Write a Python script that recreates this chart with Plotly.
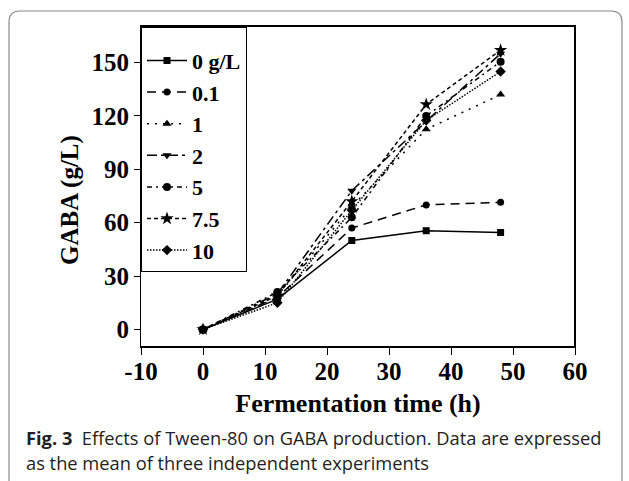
import plotly.graph_objects as go

# ---- data ----
time_h = [0, 12, 24, 36, 48]
series_names = ["0 g/L", "0.1", "1", "2", "5", "7.5", "10"]
gaba_0 = [0, 17, 50, 55.5, 54.5]
gaba_0_1 = [0, 18, 57, 70, 71.5]
gaba_1 = [0, 19, 69, 112.5, 132]
gaba_2 = [0, 20, 78, 117, 155]
gaba_5 = [0, 21, 63, 120, 150.5]
gaba_7_5 = [0, 19, 72, 126.5, 157]
gaba_10 = [0, 15, 67, 117.5, 145]
series_values = [gaba_0, gaba_0_1, gaba_1, gaba_2, gaba_5, gaba_7_5, gaba_10]
x_ticks = [-10, 0, 10, 20, 30, 40, 50, 60]
y_ticks = [0, 30, 60, 90, 120, 150]

# ---- styles ----
dashes = ["solid", "9px,6px", "2px,6px", "10px,4px,3px,4px", "5px,4px,2px,4px", "4px,3px", "1.5px,1.5px"]
symbols = ["square", "circle", "triangle-up", "triangle-down", "circle", "star", "diamond"]
msizes = [7, 7, 8, 8, 8, 10, 8]

W, H = 629, 481
ML, MR, MT, MB = 141, 54, 27, 135
PW, PH = W - ML - MR, H - MT - MB

def px(x):
    return (x - ML) / PW

def py(y):
    return (H - MB - y) / PH

serif = "Liberation Serif, Times New Roman, serif"
sans = "Open Sans, Noto Sans, sans-serif"

fig = go.Figure()
for name, vals, d, s, ms in zip(series_names, series_values, dashes, symbols, msizes):
    fig.add_trace(go.Scatter(
        x=time_h, y=vals, name=name, mode="lines+markers",
        line=dict(color="black", width=1.5, dash=d),
        marker=dict(symbol=s, size=ms, color="black"),
    ))

# rounded card outline
l, t, r, b, rad = 9, 11, 622, 500, 11
card = (f"M {px(l)},{py(b)} L {px(l)},{py(t + rad)} "
        f"Q {px(l)},{py(t)} {px(l + rad)},{py(t)} "
        f"L {px(r - rad)},{py(t)} Q {px(r)},{py(t)} {px(r)},{py(t + rad)} "
        f"L {px(r)},{py(b)}")
shapes = [
    dict(type="path", xref="paper", yref="paper", path=card,
         line=dict(color="#8a8a8a", width=1.2), layer="below"),
    dict(type="line", xref="paper", yref="paper", x0=1, x1=1, y0=0, y1=1,
         line=dict(color="black", width=2)),
]

fig.update_layout(
    width=W, height=H,
    margin=dict(l=ML, r=MR, t=MT, b=MB),
    paper_bgcolor="white", plot_bgcolor="white",
    font=dict(family=serif, color="black"),
    showlegend=True,
    legend=dict(
        x=0, y=1, xanchor="left", yanchor="top",
        bgcolor="white", bordercolor="black", borderwidth=1,
        font=dict(family=serif, size=22, color="black", weight="bold"),
        title=dict(text=" ", font=dict(size=9)),
        tracegroupgap=0,
        itemwidth=40,
    ),
    xaxis=dict(
        range=[-10, 60], tickvals=x_ticks, ticktext=[str(v) for v in x_ticks],
        showgrid=False, zeroline=False,
        showline=True, linecolor="black", linewidth=2, mirror=True,
        ticks="outside", ticklen=7, tickcolor="black", tickwidth=1,
        ticklabelstandoff=-5,
        tickfont=dict(family=serif, size=25, weight="bold"),
        title=dict(text="Fermentation time (h)", standoff=10,
                   font=dict(family=serif, size=26, weight="bold")),
    ),
    yaxis=dict(
        range=[-9.3, 170], tickvals=y_ticks, ticktext=[str(v) for v in y_ticks],
        showgrid=False, zeroline=False,
        showline=True, linecolor="black", linewidth=1, mirror=True,
        ticks="outside", ticklen=6, tickcolor="black", tickwidth=1,
        tickfont=dict(family=serif, size=25, weight="bold"),
    ),
    shapes=shapes,
    annotations=[
        dict(xref="paper", yref="paper", x=px(70), y=py(200), xanchor="center", yanchor="middle",
             text="<b>GABA (g/L)</b>", textangle=-90, showarrow=False,
             font=dict(family=serif, size=25, color="black")),
        dict(xref="paper", yref="paper", x=px(24), y=py(437), xanchor="left", yanchor="middle",
             text="<b>Fig. 3</b>  Effects of Tween-80 on GABA production. Data are expressed",
             showarrow=False, font=dict(family=sans, size=18.3, color="#231f20")),
        dict(xref="paper", yref="paper", x=px(24), y=py(462), xanchor="left", yanchor="middle",
             text="as the mean of three independent experiments",
             showarrow=False, font=dict(family=sans, size=18.3, color="#231f20")),
    ],
)

fig.write_html("out.html", config={"displayModeBar": False},
               post_script="document.body.style.margin='0';document.body.style.overflow='hidden';")
